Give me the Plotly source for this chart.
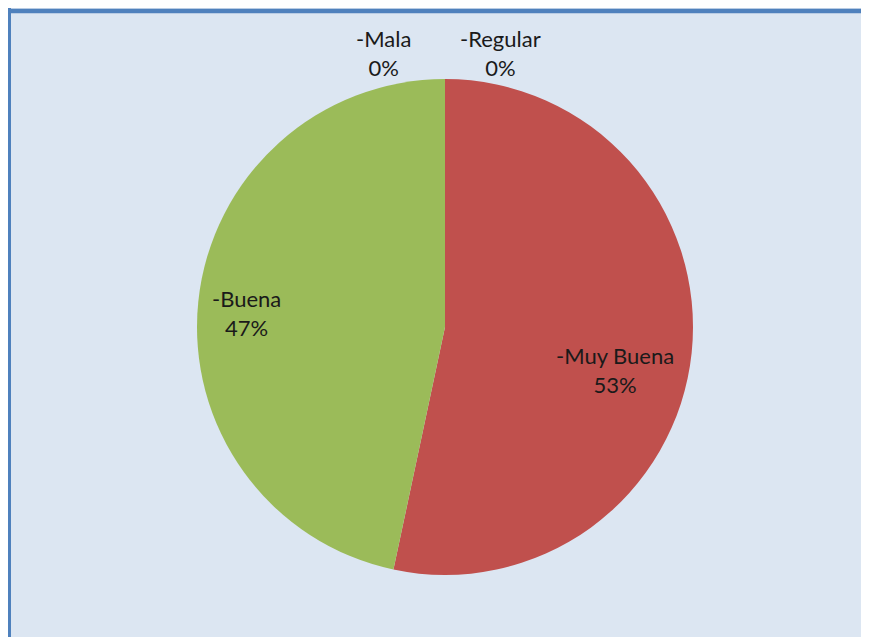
import plotly.graph_objects as go

categories = ["-Mala", "-Regular", "-Muy Buena", "-Buena"]
counts = [0, 0, 8, 7]
colors = ["#4F81BD", "#8064A2", "#C0504D", "#9BBB59"]
# label anchor positions (pixels from top-left of the chart area)
label_px = [(383, 53), (501, 53), (615, 370), (246, 313)]

OFF = 8                      # browser body margin
W, H = 869 - OFF, 637 - OFF  # figure size
cx, cy, r = 445 - OFF, 327 - OFF, 248

total = sum(counts)
FONT = dict(family="Lato, Noto Sans, sans-serif", size=22, color="#1a1a1a")
BORDER = "#4F81BD"

fig = go.Figure(go.Pie(
    labels=categories,
    values=counts,
    sort=False,
    direction="clockwise",
    rotation=0,
    marker=dict(colors=colors, line=dict(width=0)),
    textinfo="none",
    showlegend=False,
    hoverinfo="label+percent",
    domain=dict(x=[(cx - r) / W, (cx + r) / W], y=[(H - cy - r) / H, (H - cy + r) / H]),
    automargin=False,
))

annotations = []
for cat, v, (px, py) in zip(categories, counts, label_px):
    annotations.append(dict(
        xref="paper", yref="paper",
        x=(px - OFF) / W, y=1 - (py - OFF) / H,
        xanchor="center", yanchor="middle",
        text=f"{cat}<br>{round(100 * v / total)}%",
        showarrow=False, font=FONT, align="center",
    ))

fig.update_layout(
    width=W, height=H,
    margin=dict(l=0, r=0, t=0, b=0),
    paper_bgcolor="#DCE6F2",
    annotations=annotations,
    shapes=[
        dict(type="line", xref="paper", yref="paper",
             x0=1.5 / W, x1=1.5 / W, y0=0, y1=1,
             line=dict(color=BORDER, width=3)),
        dict(type="line", xref="paper", yref="paper",
             x0=0, x1=1, y0=1 - 3 / H, y1=1 - 3 / H,
             line=dict(color=BORDER, width=4.5)),
    ],
)

fig.write_html("out.html")
